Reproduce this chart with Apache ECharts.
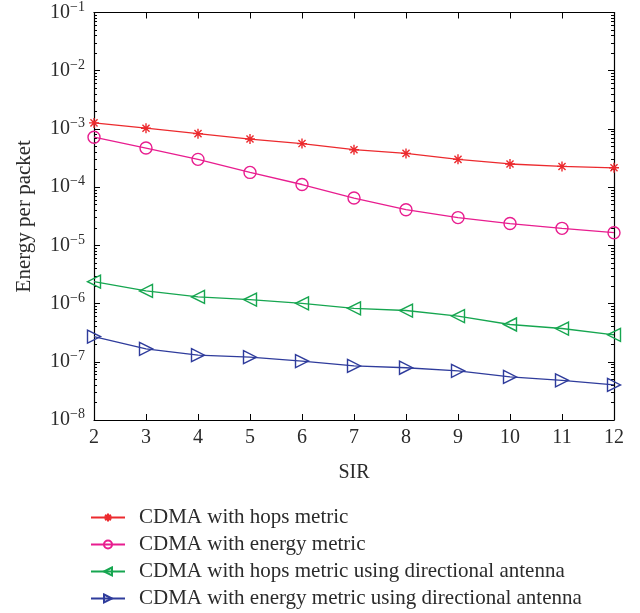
<!DOCTYPE html>
<html><head><meta charset="utf-8">
<script src="https://cdn.jsdelivr.net/npm/echarts@6/dist/echarts.min.js"></script>
<style>html,body{margin:0;padding:0;background:#fff}#c{width:640px;height:613px}</style>
</head><body><div id="c"></div>
<script>
const sir = [2,3,4,5,6,7,8,9,10,11,12];
const hopsMetric = [1.27e-3,1.03e-3,8.3e-4,6.7e-4,5.6e-4,4.4e-4,3.8e-4,3.0e-4,2.5e-4,2.27e-4,2.15e-4];
const energyMetric = [7.2e-4,4.7e-4,3.0e-4,1.79e-4,1.11e-4,6.5e-5,4.1e-5,3.0e-5,2.37e-5,1.96e-5,1.65e-5];
const hopsDirectional = [2.38e-6,1.65e-6,1.30e-6,1.17e-6,1.01e-6,8.3e-7,7.6e-7,6.1e-7,4.37e-7,3.73e-7,2.9e-7];
const energyDirectional = [2.71e-7,1.67e-7,1.30e-7,1.20e-7,1.03e-7,8.5e-8,7.9e-8,7.0e-8,5.5e-8,4.8e-8,4.0e-8];
const seriesNames = ['CDMA with hops metric','CDMA with energy metric','CDMA with hops metric using directional antenna','CDMA with energy metric using directional antenna'];
const yMinExp = -8, yMaxExp = -1;

const minorVals = [];
for (let e = yMinExp; e < yMaxExp; e++) for (let m = 2; m <= 9; m++) minorVals.push(m * Math.pow(10, e));

const FONT = 'Liberation Serif';
const TXT = '#2b2b2b';
const pair = (arr) => sir.map((x, i) => [x, arr[i]]);

const starPath = 'path://M0,-10L0,10M-10,0L10,0M-7.07,-7.07L7.07,7.07M-7.07,7.07L7.07,-7.07';
const triLeft = 'path://M10,0L0,5L10,10Z';
const triRight = 'path://M0,0L10,5L0,10Z';

function mk(name, data, color, symbol, size, fill) {
  return {
    name, type: 'line', data: pair(data), symbol, symbolSize: size,
    lineStyle: { color, width: 1.3 },
    itemStyle: { color: fill, borderColor: color, borderWidth: 1.4 },
    color: color,
    emphasis: { disabled: true }, animation: false
  };
}

const chart = echarts.init(document.getElementById('c'));
const yBase = { type: 'log', logBase: 10, min: Math.pow(10, yMinExp), max: Math.pow(10, yMaxExp), splitLine: { show: false } };
chart.setOption({
  animation: false,
  grid: { left: 94, right: 26, top: 11, bottom: 193, containLabel: false },
  xAxis: [
    { type: 'value', min: 2, max: 12, interval: 1, position: 'bottom',
      name: 'SIR', nameLocation: 'middle', nameGap: 43,
      nameTextStyle: { fontFamily: FONT, fontSize: 20, color: TXT },
      axisLine: { lineStyle: { color: '#000', width: 1.2 } },
      axisTick: { inside: true, length: 6, lineStyle: { color: '#000' } },
      axisLabel: { fontFamily: FONT, fontSize: 20, color: TXT, margin: 8 },
      splitLine: { show: false } },
    { type: 'value', min: 2, max: 12, interval: 1, position: 'top',
      axisLine: { lineStyle: { color: '#000', width: 1.2 } },
      axisTick: { inside: true, length: 6, lineStyle: { color: '#000' } },
      axisLabel: { show: false }, splitLine: { show: false } }
  ],
  yAxis: [
    Object.assign({}, yBase, { position: 'left', interval: 1,
      name: 'Energy per packet', nameLocation: 'middle', nameGap: 59,
      nameTextStyle: { fontFamily: FONT, fontSize: 21, color: TXT },
      axisLine: { lineStyle: { color: '#000', width: 1.2 } },
      axisTick: { inside: true, length: 6, lineStyle: { color: '#000' } },
      axisLabel: { margin: 9, color: TXT,
        formatter: (v) => { const e = Math.round(Math.log10(v)); return '{b|10}{s|' + (e < 0 ? '\u2212' : '') + Math.abs(e) + '}'; },
        rich: { b: { fontFamily: FONT, fontSize: 20, color: TXT }, s: { fontFamily: FONT, fontSize: 14, color: TXT, padding: [0, 0, 11, 0] } } } }),
    Object.assign({}, yBase, { position: 'right', interval: 1,
      axisLine: { lineStyle: { color: '#000', width: 1.2 } },
      axisTick: { inside: true, length: 6, lineStyle: { color: '#000' } },
      axisLabel: { show: false } }),
    Object.assign({}, yBase, { position: 'left',
      axisLine: { show: false },
      axisTick: { inside: true, length: 3, customValues: minorVals, lineStyle: { color: '#000' } },
      axisLabel: { show: false } }),
    Object.assign({}, yBase, { position: 'right',
      axisLine: { show: false },
      axisTick: { inside: true, length: 3, customValues: minorVals, lineStyle: { color: '#000' } },
      axisLabel: { show: false } })
  ],
  legend: {
    orient: 'vertical', left: 90, top: 507, padding: 0, itemWidth: 34, itemHeight: 10, itemGap: 6,
    textStyle: { fontFamily: FONT, fontSize: 21, color: TXT, padding: [0, 0, 0, 9] },
    data: seriesNames
  },
  series: [
    mk(seriesNames[0], hopsMetric, '#ec2a2e', starPath, 10, '#ec2a2e'),
    mk(seriesNames[1], energyMetric, '#e81d8f', 'circle', 12, 'rgba(255,255,255,0)'),
    mk(seriesNames[2], hopsDirectional, '#16a650', triLeft, 13, 'rgba(255,255,255,0)'),
    mk(seriesNames[3], energyDirectional, '#2f3c9c', triRight, 13, 'rgba(255,255,255,0)')
  ]
});
</script></body></html>
